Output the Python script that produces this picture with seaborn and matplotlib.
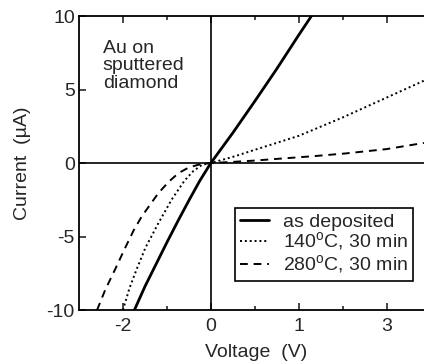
import seaborn as sns
import matplotlib
matplotlib.use("Agg")
import matplotlib.pyplot as plt

# --- data (V, uA) ----------------------------------------------------------
as_dep_v = [-1.74, -1.5, -1.25, -1.0, -0.75, -0.5, -0.25, 0.0, 0.5, 1.0, 1.5, 2.0, 2.29]
as_dep_i = [-10.0, -8.4, -6.9, -5.4, -3.95, -2.55, -1.2, 0.0, 2.05, 4.2, 6.4, 8.7, 10.0]

t140_v = [-2.0, -1.85, -1.69, -1.49, -1.19, -0.89, -0.6, -0.4, -0.2, 0.0,
          0.5, 1.0, 2.0, 3.0, 4.0, 4.85]
t140_i = [-10.0, -8.5, -7.24, -5.77, -4.07, -2.48, -1.2, -0.55, -0.12, 0.0,
          0.42, 0.9, 1.85, 3.1, 4.45, 5.6]

t280_v = [-2.59, -2.4, -2.18, -1.95, -1.76, -1.57, -1.19, -0.95, -0.73, -0.5, -0.27, 0.0,
          0.5, 1.0, 1.53, 2.3, 3.05, 4.0, 4.85]
t280_i = [-10.0, -8.6, -7.24, -5.77, -4.6, -3.62, -2.03, -1.25, -0.67, -0.3, -0.1, 0.0,
          0.08, 0.17, 0.29, 0.46, 0.65, 0.95, 1.37]

labels = ["as deposited", "140$^{\\rm o}$C, 30 min", "280$^{\\rm o}$C, 30 min"]

x_major = [-2, 0, 2, 4]
x_major_labels = ["-2", "0", "1", "3"]
x_minor = [-1, 1, 3]
y_ticks = [-10, -5, 0, 5, 10]

# --- style ------------------------------------------------------------------
sns.set_style("ticks")
plt.rcParams["font.family"] = ["Liberation Sans", "DejaVu Sans"]
plt.rcParams["mathtext.fontset"] = "custom"
plt.rcParams["mathtext.rm"] = "Liberation Sans"
plt.rcParams["axes.unicode_minus"] = False

FS = 14

fig = plt.figure(figsize=(4.24, 3.64), dpi=100)
ax = fig.add_axes([0.1863, 0.148, 0.829, 0.808])

sns.lineplot(x=as_dep_v, y=as_dep_i, ax=ax, color="k", lw=2.0, sort=False,
             label=labels[0])
sns.lineplot(x=t140_v, y=t140_i, ax=ax, color="k", lw=1.4, sort=False,
             linestyle=(0, (1, 1.5)), label=labels[1])
sns.lineplot(x=t280_v, y=t280_i, ax=ax, color="k", lw=1.4, sort=False,
             linestyle=(0, (4, 3)), label=labels[2])

# zero cross-hair
ax.axhline(0, color="k", lw=1.2)
ax.axvline(0, color="k", lw=1.2)

ax.set_xlim(-3, 5)
ax.set_ylim(-10, 10)

ax.set_xticks(x_major)
ax.set_xticklabels(x_major_labels)
ax.set_xticks(x_minor, minor=True)
ax.set_yticks(y_ticks)

ax.tick_params(which="major", direction="in", length=5, width=1.2,
               top=True, right=False, labelsize=FS)
ax.tick_params(axis="x", which="major", pad=6)
ax.tick_params(axis="y", which="major", pad=3)
ax.tick_params(which="minor", direction="in", length=3, width=1.2,
               top=True, right=False)

for sp in ax.spines.values():
    sp.set_linewidth(1.3)
    sp.set_color("k")

ax.set_xlabel("Voltage  (V)", fontsize=FS)
ax.set_ylabel("Current  (\u00b5A)", fontsize=FS)
ax.xaxis.set_label_coords(0.504, -0.115)
ax.yaxis.set_label_coords(-0.136, 0.5)

ax.text(0.068, 0.92, "Au on\nsputtered\ndiamond", transform=ax.transAxes,
        ha="left", va="top", fontsize=FS, linespacing=1.05)

leg = ax.legend(loc="lower left", bbox_to_anchor=(0.444, 0.099),
                borderaxespad=0, fontsize=FS, frameon=True, fancybox=False,
                framealpha=1, edgecolor="k", handlelength=1.5,
                handletextpad=0.7, labelspacing=0.0, borderpad=0.25)
leg.get_frame().set_linewidth(1.2)

fig.savefig("out.png", dpi=100)
